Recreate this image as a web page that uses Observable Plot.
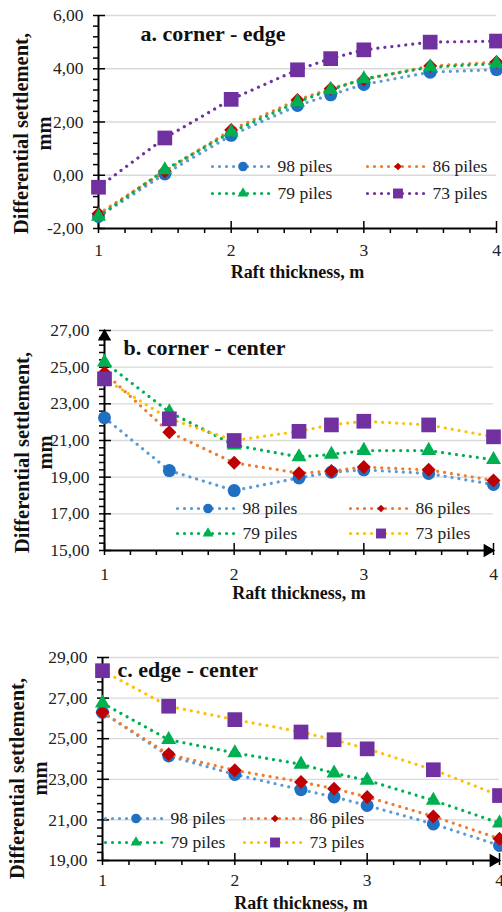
<!DOCTYPE html>
<html><head><meta charset="utf-8">
<script src="https://cdn.jsdelivr.net/npm/d3@7"></script>
<script src="https://cdn.jsdelivr.net/npm/@observablehq/plot@0.6"></script>
<style>
body{margin:0;background:#fff;width:502px;height:912px;overflow:hidden}
#chart svg{display:block}
</style>
</head><body>
<div id="chart"></div>
<script>
// ---------- data ----------
const thickness = [1, 1.5, 2, 2.5, 2.75, 3, 3.5, 4];
const pileGroups = ["98 piles", "86 piles", "79 piles", "73 piles"];

// a. corner - edge
const cornerEdge98 = [-1.55, 0.05, 1.5, 2.62, 3.02, 3.41, 3.87, 3.97];
const cornerEdge86 = [-1.45, 0.15, 1.7, 2.83, 3.25, 3.6, 4.1, 4.25];
const cornerEdge79 = [-1.55, 0.2, 1.62, 2.75, 3.21, 3.62, 4.06, 4.19];
const cornerEdge73 = [-0.45, 1.4, 2.85, 3.96, 4.38, 4.71, 5.0, 5.04];

// b. corner - center
const cornerCenter98 = [22.24, 19.36, 18.27, 18.96, 19.27, 19.4, 19.2, 18.6];
const cornerCenter86 = [24.7, 21.45, 19.78, 19.22, 19.33, 19.55, 19.4, 18.82];
const cornerCenter79 = [25.27, 22.55, 20.75, 20.1, 20.24, 20.45, 20.45, 19.95];
const cornerCenter73 = [24.36, 22.18, 21.0, 21.5, 21.85, 22.05, 21.85, 21.2];

// c. edge - center
const edgeCenter98 = [26.3, 24.15, 23.24, 22.49, 22.13, 21.71, 20.8, 19.74];
const edgeCenter86 = [26.3, 24.23, 23.44, 22.87, 22.54, 22.13, 21.17, 20.07];
const edgeCenter79 = [26.75, 24.95, 24.3, 23.74, 23.3, 22.95, 21.96, 20.84];
const edgeCenter73 = [28.35, 26.6, 25.94, 25.33, 24.95, 24.5, 23.47, 22.2];

const xTicks = [1, 2, 3, 4];
const yTicksA = [-2, 0, 2, 4, 6];
const yTicksB = [15, 17, 19, 21, 23, 25, 27];
const yTicksC = [19, 21, 23, 25, 27, 29];

const titles = ["a. corner - edge", "b. corner - center", "c. edge - center"];
const xTitle = "Raft thickness, m";
const yTitle = "Differential settlement,\nmm";

// ---------- styles ----------
const markerSymbols = ["circle", "diamond2", "triangle", "square"];
const markerColors = ["#1f6fc2", "#c00000", "#00b050", "#7030a0"];
const markerR = [6.5, 6.3, 5.6, 8.3];
const legendR = [4.8, 3.4, 4.0, 5.6];
const lineColorsA = ["#5b9bd5", "#ed7d31", "#00b050", "#7030a0"];
const lineColorsBC = ["#5b9bd5", "#ed7d31", "#00b050", "#ffc000"];
const FONT = "Liberation Serif";
const fmtY = v => v.toFixed(2).replace(".", ",");

function panel(cfg) {
  const W = 502, {H, mt, mb, ml, mr} = cfg;
  const [y0, y1] = cfg.yDomain;
  const xs = d3.scaleLinear([1, 4], [ml, W - mr]);
  const ys = d3.scaleLinear(cfg.yDomain, [H - mb, mt]);
  const rows = pileGroups.flatMap((g, i) => thickness.map((t, j) => ({g, i, t, v: cfg.values[i][j]})));
  const yMinor = d3.range(y0, y1 + 1e-9, 0.4).filter(v => !cfg.yTicks.some(m => Math.abs(m - v) < 1e-6));
  const xMinor = d3.range(1, 4 + 1e-9, 0.2).filter(v => Math.abs(v - Math.round(v)) > 1e-6);
  const lineStyle = {strokeWidth: 3.2, strokeDasharray: "0.01 7", strokeLinecap: "round"};
  const marks = [
    Plot.ruleY(cfg.yTicks.filter(v => v > y0), {stroke: "#d9d9d9", strokeWidth: 1.3}),
    Plot.ruleX([1], {stroke: "black", strokeWidth: 2}),
    Plot.ruleY([y0], {stroke: "black", strokeWidth: 2}),
    Plot.ruleY(cfg.yTicks, {x1: () => 1, x2: () => 1, insetLeft: -5, insetRight: -7, stroke: "black", strokeWidth: 1.5}),
    Plot.ruleY(yMinor, {x1: () => 1, x2: () => 1, insetLeft: -5, insetRight: 0, stroke: "black", strokeWidth: 1.5}),
    Plot.ruleX(xTicks, {y1: () => y0, y2: () => y0, insetTop: -7, insetBottom: -5, stroke: "black", strokeWidth: 1.5}),
    Plot.ruleX(xMinor, {y1: () => y0, y2: () => y0, insetTop: 0, insetBottom: -5, stroke: "black", strokeWidth: 1.5}),
    Plot.axisY({ticks: cfg.yTicks, tickSize: 0, tickPadding: 15, tickFormat: fmtY, fontSize: 17.5, fontFamily: FONT, color: "#222", label: null}),
    Plot.axisX({ticks: xTicks, tickSize: 0, tickPadding: cfg.xTickPad, tickFormat: d => String(d), fontSize: 17.5, fontFamily: FONT, color: "#222", label: null}),
    Plot.text([xTitle], {text: d => d, frameAnchor: "bottom", dy: cfg.xTitleDy, textAnchor: "middle", lineAnchor: "middle", fontFamily: FONT, fontWeight: "bold", fontSize: 18, fill: "#111"}),
    Plot.text([yTitle], {text: d => d, frameAnchor: "left", rotate: -90, dx: cfg.yTitleDx, dy: cfg.yTitleDy, textAnchor: "middle", lineAnchor: "middle", lineHeight: 1.1, fontFamily: FONT, fontWeight: "bold", fontSize: 20.5, fill: "#111"}),
    Plot.text([cfg.title], {text: d => d, frameAnchor: "top-left", dx: cfg.titleX - ml, dy: cfg.titleY - mt, textAnchor: "start", lineAnchor: "middle", fontFamily: FONT, fontWeight: "bold", fontSize: 22, fill: "#111"})
  ];
  if (cfg.arrowY) marks.push(Plot.dot([{t: 1, v: y1}], {x: "t", y: "v", symbol: "triangle", r: 5, fill: "black", dy: 6}));
  if (cfg.arrowX) marks.push(Plot.dot([{t: 4, v: y0}], {x: "t", y: "v", symbol: "triangle", r: 5, fill: "black", rotate: 90, dx: -6}));
  pileGroups.forEach((g, i) => {
    const d = rows.filter(r => r.i === i);
    marks.push(Plot.line(d, {x: "t", y: "v", stroke: cfg.lineColors[i], ...lineStyle}));
    marks.push(Plot.dot(d, {x: "t", y: "v", symbol: markerSymbols[i], r: markerR[i], fill: markerColors[i]}));
  });
  // legend (2 x 2)
  pileGroups.forEach((g, k) => {
    const lx = cfg.legendX[k % 2], ly = cfg.legendY[k >> 1];
    const vy = ys.invert(ly);
    marks.push(Plot.line([{t: xs.invert(lx), v: vy}, {t: xs.invert(lx + 61), v: vy}], {x: "t", y: "v", stroke: cfg.lineColors[k], ...lineStyle}));
    marks.push(Plot.dot([{t: xs.invert(lx + 30.5), v: vy}], {x: "t", y: "v", symbol: markerSymbols[k], r: legendR[k], fill: markerColors[k]}));
    marks.push(Plot.text([g], {text: d => d, x: () => xs.invert(lx + 65), y: () => vy, textAnchor: "start", fontFamily: FONT, fontSize: 17.5, fill: "#222"}));
  });
  return Plot.plot({
    width: W, height: H,
    marginTop: mt, marginBottom: mb, marginLeft: ml, marginRight: mr,
    x: {domain: [1, 4]},
    y: {domain: cfg.yDomain},
    style: "background: white; overflow: visible;",
    marks
  });
}

const panels = [
  {
    H: 290, mt: 15, mb: 62, ml: 98, mr: 6,
    yDomain: [-2, 6], yTicks: yTicksA,
    values: [cornerEdge98, cornerEdge86, cornerEdge79, cornerEdge73],
    lineColors: lineColorsA,
    title: titles[0], titleX: 140, titleY: 33,
    xTickPad: 15, xTitleDy: 44, yTitleDx: -66, yTitleDy: 11.5,
    legendX: [212, 367], legendY: [166, 193],
    arrowX: false, arrowY: false
  },
  {
    H: 315, mt: 40, mb: 55, ml: 104, mr: 9,
    yDomain: [15, 27], yTicks: yTicksB,
    values: [cornerCenter98, cornerCenter86, cornerCenter79, cornerCenter73],
    lineColors: lineColorsBC,
    title: titles[1], titleX: 123, titleY: 57,
    xTickPad: 17, xTitleDy: 43, yTitleDx: -71, yTitleDy: 12,
    legendX: [177, 350], legendY: [218, 243],
    arrowX: true, arrowY: true
  },
  {
    H: 307, mt: 52, mb: 52, ml: 102, mr: 3,
    yDomain: [19, 29], yTicks: yTicksC,
    values: [edgeCenter98, edgeCenter86, edgeCenter79, edgeCenter73],
    lineColors: lineColorsBC,
    title: titles[2], titleX: 117, titleY: 64,
    xTickPad: 13, xTitleDy: 43, yTitleDx: -74, yTitleDy: 19.5,
    legendX: [105, 244], legendY: [213, 237],
    arrowX: true, arrowY: false
  }
];

const root = document.getElementById("chart");
root.replaceChildren(...panels.map(panel));
</script>
</body></html>
